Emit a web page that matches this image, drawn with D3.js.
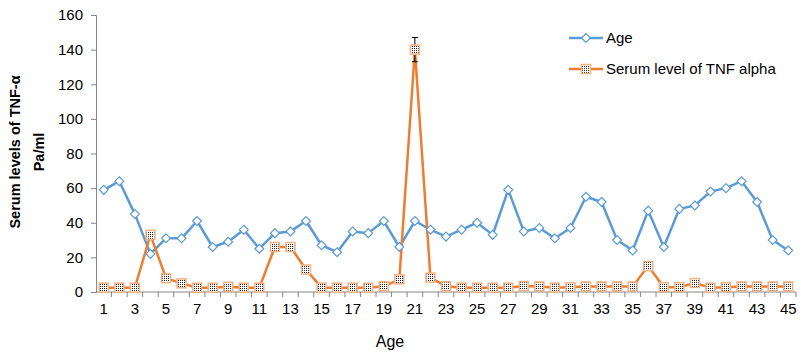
<!DOCTYPE html>
<html>
<head>
<meta charset="utf-8">
<script src="https://cdn.jsdelivr.net/npm/d3@7"></script>
<style>
  body { margin: 0; background: #fff; }
  svg, svg text { font-family: Arial, "Liberation Sans", sans-serif; }
</style>
</head>
<body>
<svg id="chart"></svg>
<script>
// Categories (x axis)
const ages = [1, 2, 3, 4, 5, 6, 7, 8, 9, 10, 11, 12, 13, 14, 15, 16, 17, 18, 19, 20,
  21, 22, 23, 24, 25, 26, 27, 28, 29, 30, 31, 32, 33, 34, 35, 36, 37, 38, 39, 40,
  41, 42, 43, 44, 45];

// Series values
const ageValues = [59, 64, 45, 22, 31, 31, 41, 26, 29, 36, 25, 34, 35, 41, 27, 23, 35, 34, 41, 26,
  41, 36, 32, 36, 40, 33, 59, 35, 37, 31, 37, 55, 52, 30, 24, 47, 26, 48, 50, 58,
  60, 64, 52, 30, 24];
const tnfValues = [2.5, 2.5, 2.5, 33, 8, 5, 2.5, 2.5, 3, 2.5, 2.5, 26, 26, 13, 2.5, 2.5, 2.5, 2.5, 3.3, 7.3,
  140, 8.3, 3.3, 2.5, 2.5, 2.5, 2.5, 3.4, 3.2, 2.5, 2.8, 3.2, 3.2, 3.2, 3.2, 15, 2.8, 2.8, 5.2, 2.5,
  2.8, 3.2, 3.2, 3.2, 3.2];
// error bar only on the spike
const tnfError = { index: 20, value: 7 };

const yTicks = [0, 20, 40, 60, 80, 100, 120, 140, 160];
const xTickLabels = ages.filter((d, i) => i % 2 === 0);

const width = 803;
const height = 354;
const margin = { top: 15, right: 7, bottom: 62, left: 96 };
const font = 'Arial, "Liberation Sans", sans-serif';

const svg = d3.select('#chart')
  .attr('width', width)
  .attr('height', height)
  .attr('font-family', font);

const x = d3.scaleBand()
  .domain(ages)
  .range([margin.left, width - margin.right]);

const y = d3.scaleLinear()
  .domain([0, 160])
  .range([height - margin.bottom, margin.top]);

const cx = d => x(d) + x.bandwidth() / 2;

const axisColor = '#868686';
const blue = '#5b9bd5';
const orange = '#ed7d31';

// dotted pattern for the square markers
const defs = svg.append('defs');
const pat = defs.append('pattern')
  .attr('id', 'dots')
  .attr('width', 2)
  .attr('height', 2)
  .attr('patternUnits', 'userSpaceOnUse');
pat.append('rect').attr('width', 2).attr('height', 2).attr('fill', '#fff');
pat.append('rect').attr('width', 1).attr('height', 1).attr('fill', '#222');

// y axis
const yAxis = svg.append('g')
  .attr('transform', `translate(${margin.left},0)`)
  .call(d3.axisLeft(y).tickValues(yTicks).tickSize(5).tickPadding(8));
yAxis.attr('font-family', font);
yAxis.select('.domain').attr('stroke', axisColor);
yAxis.selectAll('.tick line').attr('stroke', axisColor);
yAxis.selectAll('.tick text')
  .attr('fill', '#000')
  .attr('font-size', 15);

// x axis: ticks on band edges, labels every second category
const xAxisG = svg.append('g')
  .attr('transform', `translate(0,${y(0)})`);
xAxisG.append('line')
  .attr('x1', margin.left)
  .attr('x2', width - margin.right)
  .attr('stroke', axisColor);
xAxisG.selectAll('.edge')
  .data(ages)
  .join('line')
  .attr('class', 'edge')
  .attr('x1', d => x(d) + x.bandwidth())
  .attr('x2', d => x(d) + x.bandwidth())
  .attr('y1', 0)
  .attr('y2', 5)
  .attr('stroke', axisColor);
xAxisG.selectAll('.lbl')
  .data(xTickLabels)
  .join('text')
  .attr('class', 'lbl')
  .attr('x', d => cx(d))
  .attr('y', 22)
  .attr('text-anchor', 'middle')
  .attr('font-size', 15)
  .text(d => d);

// lines
const lineAge = d3.line()
  .x((d, i) => cx(ages[i]))
  .y(d => y(d));

svg.append('path')
  .datum(ageValues)
  .attr('fill', 'none')
  .attr('stroke', blue)
  .attr('stroke-width', 2.5)
  .attr('stroke-linejoin', 'round')
  .attr('d', lineAge);

svg.append('path')
  .datum(tnfValues)
  .attr('fill', 'none')
  .attr('stroke', orange)
  .attr('stroke-width', 2.5)
  .attr('stroke-linejoin', 'round')
  .attr('d', lineAge);

// error bar
const ex = cx(ages[tnfError.index]);
const ev = tnfValues[tnfError.index];
const eb = svg.append('g').attr('stroke', '#000').attr('stroke-width', 1);
eb.append('line')
  .attr('x1', ex).attr('x2', ex)
  .attr('y1', y(ev - tnfError.value)).attr('y2', y(ev + tnfError.value));
eb.append('line')
  .attr('x1', ex - 3).attr('x2', ex + 3)
  .attr('y1', y(ev + tnfError.value)).attr('y2', y(ev + tnfError.value));
eb.append('line')
  .attr('x1', ex - 3).attr('x2', ex + 3)
  .attr('y1', y(ev - tnfError.value)).attr('y2', y(ev - tnfError.value));

// markers
const diamond = d3.symbol().type(d3.symbolDiamond2).size(50);

svg.selectAll('.age-pt')
  .data(ageValues)
  .join('path')
  .attr('class', 'age-pt')
  .attr('transform', (d, i) => `translate(${cx(ages[i])},${y(d)})`)
  .attr('d', diamond)
  .attr('fill', '#fff')
  .attr('stroke', blue)
  .attr('stroke-width', 1.2);

svg.selectAll('.tnf-pt')
  .data(tnfValues)
  .join('rect')
  .attr('class', 'tnf-pt')
  .attr('x', (d, i) => cx(ages[i]) - 4.5)
  .attr('y', d => y(d) - 4.5)
  .attr('width', 9)
  .attr('height', 9)
  .attr('fill', 'url(#dots)')
  .attr('stroke', '#f4b183')
  .attr('stroke-width', 1.5);

// legend
const legend = svg.append('g');
const legItems = [
  { name: 'Age', color: blue, type: 'diamond', y: 38 },
  { name: 'Serum level of TNF alpha', color: orange, type: 'square', y: 69 }
];
legItems.forEach(it => {
  legend.append('line')
    .attr('x1', 569).attr('x2', 603)
    .attr('y1', it.y).attr('y2', it.y)
    .attr('stroke', it.color)
    .attr('stroke-width', 2.5);
  if (it.type === 'diamond') {
    legend.append('path')
      .attr('transform', `translate(586,${it.y})`)
      .attr('d', diamond)
      .attr('fill', '#fff')
      .attr('stroke', blue)
      .attr('stroke-width', 1.2);
  } else {
    legend.append('rect')
      .attr('x', 581.5).attr('y', it.y - 4.5)
      .attr('width', 9).attr('height', 9)
      .attr('fill', 'url(#dots)')
      .attr('stroke', '#f4b183')
      .attr('stroke-width', 1.5);
  }
  legend.append('text')
    .attr('x', 606)
    .attr('y', it.y + 5)
    .attr('font-size', 15)
    .text(it.name);
});

// axis titles
svg.append('text')
  .attr('transform', 'translate(20,152) rotate(-90)')
  .attr('text-anchor', 'middle')
  .attr('font-size', 14.5)
  .attr('font-weight', 'bold')
  .text('Serum levels of TNF-α');
svg.append('text')
  .attr('transform', 'translate(44,152) rotate(-90)')
  .attr('text-anchor', 'middle')
  .attr('font-size', 14.5)
  .attr('font-weight', 'bold')
  .text('Pa/ml');

svg.append('text')
  .attr('x', 390)
  .attr('y', 347)
  .attr('text-anchor', 'middle')
  .attr('font-size', 16)
  .text('Age');
</script>
</body>
</html>
